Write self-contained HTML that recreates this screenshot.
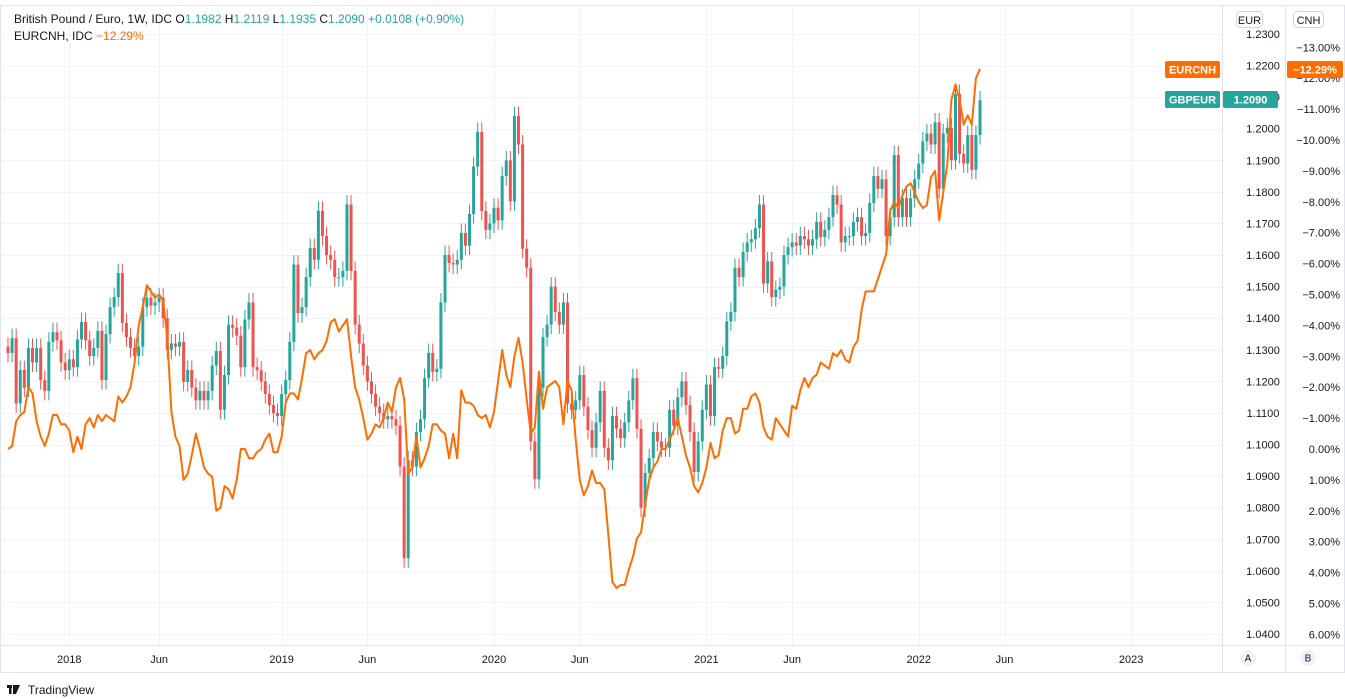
<!DOCTYPE html>
<html><head><meta charset="utf-8"><style>
html,body{margin:0;padding:0;background:#fff;overflow:hidden;}
svg{display:block;font-family:"Liberation Sans",sans-serif;}
</style></head><body>
<svg id="chart" width="1345" height="699" viewBox="0 0 1345 699">
<rect x="0" y="0" width="1345" height="699" fill="#fff"/>
<rect x="0.5" y="5.5" width="1344" height="667" fill="none" stroke="#e0e3eb"/>
<g id="grid"></g>
<g id="candles"></g>
<g id="line"></g>
<line x1="1222.5" y1="5" x2="1222.5" y2="672" stroke="#e0e3eb"/>
<line x1="1285.5" y1="5" x2="1285.5" y2="672" stroke="#e0e3eb"/>
<line x1="0" y1="645.5" x2="1345" y2="645.5" stroke="#e0e3eb"/>
<g id="eurAxis"></g>
<g id="cnhAxis"></g>
<g id="timeAxis"></g>
<g font-size="12" style="white-space:pre" xml:space="preserve">
<text x="14" y="23" fill="#131722">British Pound / Euro, 1W, IDC  <tspan fill="#131722">O</tspan><tspan fill="#26a69a">1.1982</tspan>  <tspan fill="#131722">H</tspan><tspan fill="#26a69a">1.2119</tspan>  <tspan fill="#131722">L</tspan><tspan fill="#26a69a">1.1935</tspan>  <tspan fill="#131722">C</tspan><tspan fill="#26a69a">1.2090</tspan>  <tspan fill="#26a69a">+0.0108 (+0.90%)</tspan></text>
<text x="14" y="40" fill="#131722">EURCNH, IDC  <tspan fill="#ff6d00">−12.29%</tspan></text>
</g>
<g>
<rect x="1236.5" y="11.5" width="26" height="16" rx="4" fill="#fff" stroke="#d1d4dc"/>
<text x="1249.5" y="24" font-size="11" text-anchor="middle" fill="#131722">EUR</text>
<rect x="1293.5" y="11.5" width="30" height="16" rx="4" fill="#fff" stroke="#d1d4dc"/>
<text x="1308.5" y="24" font-size="11" text-anchor="middle" fill="#131722">CNH</text>
</g>
<g font-size="11" font-weight="bold" fill="#fff">
<rect x="1165" y="61" width="55" height="17" rx="2" fill="#ff6d00"/>
<text x="1192.5" y="73.5" text-anchor="middle" fill="#fff">EURCNH</text>
<rect x="1287" y="61" width="56" height="17" rx="2" fill="#ff6d00"/>
<text x="1315" y="73.5" text-anchor="middle" fill="#fff">−12.29%</text>
<rect x="1165" y="91" width="55" height="17" rx="2" fill="#26a69a"/>
<text x="1192.5" y="103.5" text-anchor="middle" fill="#fff">GBPEUR</text>
<rect x="1223" y="91" width="55" height="17" rx="2" fill="#26a69a"/>
<text x="1250.5" y="103.5" text-anchor="middle" fill="#fff">1.2090</text>
</g>
<g font-size="10" fill="#131722">
<circle cx="1248" cy="658" r="8" fill="#f0f3fa"/>
<text x="1248" y="661.5" text-anchor="middle">A</text>
<circle cx="1308" cy="658" r="8" fill="#f0f3fa"/>
<text x="1308" y="661.5" text-anchor="middle">B</text>
</g>
<g>
<rect x="7" y="685" width="5" height="3" fill="#131722"/><rect x="9" y="685" width="2.5" height="9" fill="#131722"/>
<polygon points="13,685 20,685 16,694 13,694" fill="#131722"/><circle cx="15" cy="686.5" r="1.6" fill="#131722"/>
<text x="28" y="694" font-size="12" fill="#131722">TradingView</text>
</g>
</svg>
<script>
const closes=[1.129,1.1337,1.113,1.1236,1.118,1.1306,1.126,1.1306,1.1204,1.117,1.1325,1.1356,1.133,1.126,1.1235,1.127,1.1245,1.1333,1.1388,1.133,1.128,1.1306,1.136,1.1204,1.135,1.1435,1.1467,1.1543,1.1385,1.134,1.1306,1.128,1.131,1.1435,1.1465,1.144,1.145,1.1465,1.140,1.130,1.132,1.131,1.1325,1.1198,1.1236,1.118,1.114,1.117,1.114,1.117,1.125,1.1296,1.111,1.122,1.1379,1.137,1.1345,1.1245,1.1396,1.145,1.1245,1.1235,1.12,1.116,1.1125,1.110,1.109,1.116,1.1204,1.1325,1.157,1.1416,1.1435,1.153,1.1622,1.1585,1.174,1.166,1.160,1.1585,1.153,1.153,1.155,1.176,1.155,1.138,1.132,1.125,1.120,1.116,1.112,1.110,1.108,1.109,1.108,1.106,1.093,1.064,1.095,1.093,1.104,1.108,1.121,1.129,1.123,1.124,1.145,1.160,1.1575,1.157,1.1585,1.167,1.163,1.173,1.188,1.199,1.174,1.168,1.170,1.175,1.171,1.185,1.190,1.177,1.204,1.195,1.162,1.156,1.101,1.089,1.118,1.134,1.138,1.150,1.142,1.138,1.145,1.113,1.111,1.114,1.122,1.112,1.1046,1.099,1.107,1.117,1.099,1.095,1.109,1.105,1.102,1.107,1.114,1.121,1.105,1.080,1.091,1.0957,1.104,1.101,1.099,1.099,1.111,1.106,1.115,1.120,1.1125,1.104,1.0913,1.101,1.111,1.119,1.109,1.1245,1.124,1.128,1.139,1.142,1.156,1.153,1.161,1.164,1.165,1.1685,1.176,1.151,1.158,1.1467,1.149,1.150,1.160,1.1625,1.164,1.163,1.166,1.165,1.163,1.165,1.1705,1.1657,1.168,1.172,1.179,1.176,1.164,1.166,1.166,1.1705,1.172,1.166,1.167,1.1765,1.185,1.181,1.184,1.166,1.172,1.1917,1.172,1.178,1.172,1.178,1.184,1.189,1.196,1.1985,1.195,1.202,1.181,1.1985,1.2003,1.190,1.211,1.192,1.189,1.198,1.187,1.198,1.209];
const eurcnhPct=[0,-0.1,-0.9,-1.1,-1.2,-2.0,-1.8,-0.9,-0.4,-0.1,-0.5,-1.1,-1.1,-0.8,-0.8,-0.6,0.1,-0.4,0,-0.8,-1.0,-0.7,-1.1,-0.9,-1.1,-1.0,-0.9,-1.7,-1.5,-1.7,-2.0,-2.8,-4.0,-4.6,-5.3,-5.1,-4.9,-5.0,-4.8,-3.6,-1.2,-0.4,-0.1,1.0,0.8,0.2,-0.5,0.0,0.6,0.8,0.9,2.0,1.9,1.2,1.3,1.6,1.0,0,0,0.3,0.3,0.1,0,-0.3,-0.5,0.1,0.1,-0.4,-1.5,-1.8,-1.8,-1.6,-2.3,-3.1,-3.2,-2.9,-3.1,-3.2,-3.5,-4.1,-4.2,-3.8,-4.0,-4.2,-3.0,-2.0,-1.6,-1.0,-0.3,-0.5,-0.8,-0.7,-1.0,-1.5,-1.2,-2.0,-2.3,-1.6,0.8,0.6,-0.4,0.6,0.3,-0.1,-0.8,-0.8,-0.6,-0.5,0.3,-0.5,0.3,-1.9,-1.5,-1.5,-1.4,-1.1,-1.0,-1.1,-0.7,-1.2,-2.2,-3.2,-2.4,-2.0,-3.0,-3.6,-2.8,-1.6,-0.5,-0.7,-2.5,-1.3,-2.0,-2.1,-2.2,-2.0,-0.8,-2.2,-1.9,-0.3,1.0,1.5,1.2,0.7,1.1,1.1,1.3,2.8,4.3,4.5,4.4,4.4,3.9,3.5,2.9,2.7,1.8,1.0,0.6,0.4,0,0,-0.3,-0.6,-1.0,-0.4,0.2,0.6,1.2,1.4,1.1,0.6,-0.2,0.3,0.2,-0.6,-1.0,-1.0,-0.5,-0.6,-1.3,-1.3,-1.7,-1.8,-1.5,-0.7,-0.4,-0.3,-1.0,-0.8,-0.6,-0.4,-1.4,-1.3,-1.9,-2.3,-2.0,-2.3,-2.4,-2.8,-2.7,-2.6,-3.1,-3.0,-3.2,-2.9,-2.8,-3.3,-3.5,-4.5,-5.1,-5.1,-5.1,-5.5,-5.9,-6.3,-7.7,-8.0,-7.8,-8.2,-8.5,-8.6,-8.3,-8.0,-7.8,-7.9,-8.8,-9.0,-7.4,-8.3,-9.2,-11.3,-11.8,-11.3,-10.5,-10.8,-10.5,-12.0,-12.3];
const eurTicks=[1.23,1.22,1.21,1.20,1.19,1.18,1.17,1.16,1.15,1.14,1.13,1.12,1.11,1.10,1.09,1.08,1.07,1.06,1.05,1.04];
const cnhTicks=[-13,-12,-11,-10,-9,-8,-7,-6,-5,-4,-3,-2,-1,0,1,2,3,4,5,6];
const timeLabels=["2018","Jun","2019","Jun","2020","Jun","2021","Jun","2022","Jun","2023"];
const timeWeeks=[15,37,67,88,119,140,171,192,223,244,275];
const firstOpen=1.131;

const NS="http://www.w3.org/2000/svg";
const xOf=i=>8+i*(972/(closes.length-1));
const yEur=p=>34+(1.23-p)*3157.9;
const yCnh=v=>449+v*30.9;
function mk(tag,attrs,parent){const e=document.createElementNS(NS,tag);for(const k in attrs)e.setAttribute(k,attrs[k]);parent.appendChild(e);return e;}
const grid=document.getElementById('grid');
eurTicks.forEach(t=>{const y=Math.round(yEur(t))+0.5;const l=mk('line',{x1:0,x2:1222,y1:y,y2:y,stroke:'#f0f3fa'},grid);

});
timeWeeks.forEach(w=>{const x=Math.round(xOf(w))+0.5;const l=mk('line',{x1:x,x2:x,y1:5,y2:645,stroke:'#f0f3fa'},grid);

});
const ea=document.getElementById('eurAxis');
eurTicks.forEach(t=>{const tx=mk('text',{x:1263,y:yEur(t)+4,'font-size':11,'text-anchor':'middle',fill:'#131722'},ea);tx.textContent=t.toFixed(4);

});
const ca=document.getElementById('cnhAxis');
cnhTicks.forEach(t=>{const s=(t<0?'−':'')+Math.abs(t).toFixed(2)+'%';const tx=mk('text',{x:1340,y:yCnh(t)+4,'font-size':11,'text-anchor':'end',fill:'#131722'},ca);tx.textContent=s;

});
const ta=document.getElementById('timeAxis');
timeLabels.forEach((s,k)=>{const tx=mk('text',{x:xOf(timeWeeks[k]),y:663,'font-size':11,'text-anchor':'middle',fill:'#131722'},ta);tx.textContent=s;

});
const cg=document.getElementById('candles');
closes.forEach((c,i)=>{const o=i===0?firstOpen:closes[i-1];const up=c>=o;const col=up?'#26a69a':'#ef5350';
const x=xOf(i);const hi=Math.max(o,c)+0.003,lo=Math.min(o,c)-0.003;
const g=mk('g',{},cg);


mk('line',{x1:x,x2:x,y1:yEur(hi),y2:yEur(lo),stroke:col,'stroke-width':1},g);
const y1=yEur(Math.max(o,c)),y2=yEur(Math.min(o,c));
mk('rect',{x:x-1.5,y:y1,width:3,height:Math.max(1,y2-y1),fill:col},g);});
const lg=document.getElementById('line');
const pts=eurcnhPct.map((v,i)=>xOf(i).toFixed(1)+','+yCnh(v).toFixed(1)).join(' ');
const pl=mk('polyline',{points:pts,fill:'none',stroke:'#ff6d00','stroke-width':2,'stroke-linejoin':'round'},lg);


</script>
</body></html>
